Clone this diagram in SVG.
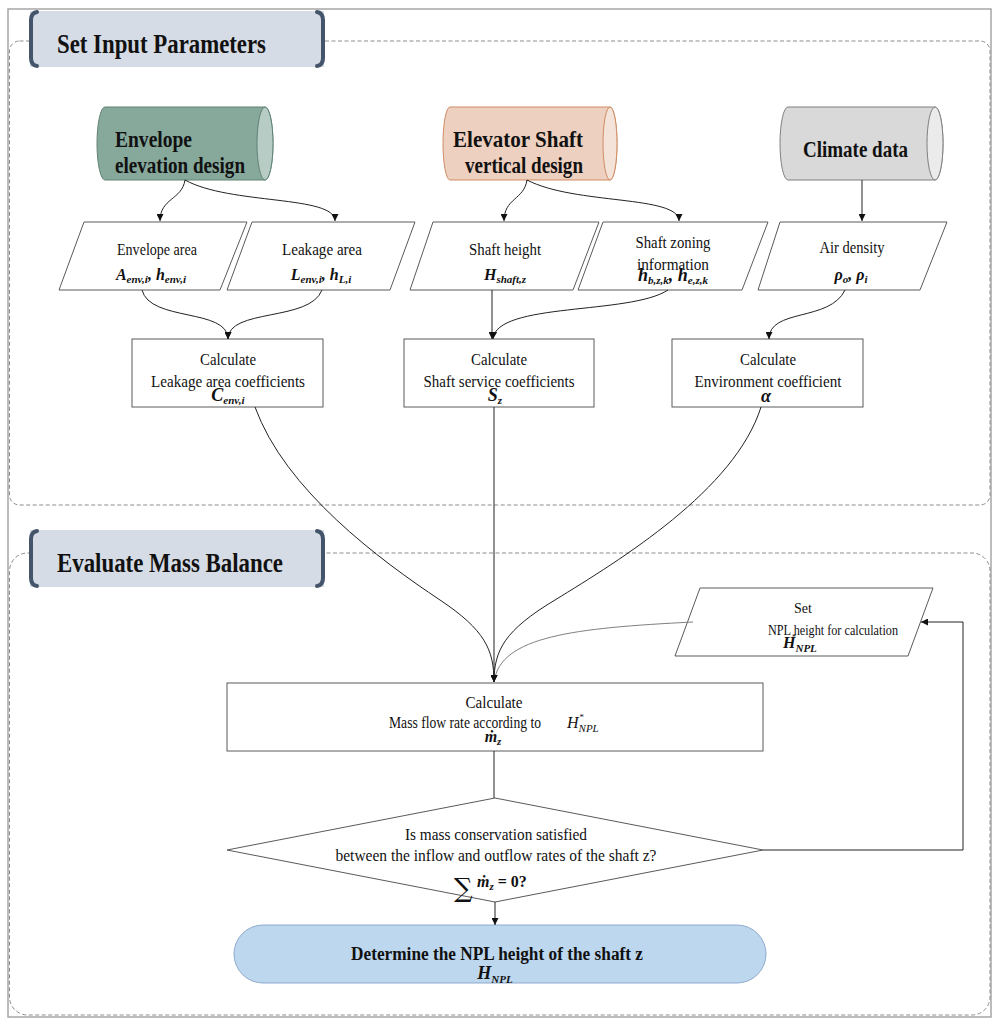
<svg xmlns="http://www.w3.org/2000/svg" width="1000" height="1027" viewBox="0 0 1000 1027">
  <defs>
    <marker id="arr" viewBox="0 0 10 10" refX="10" refY="5" markerWidth="7" markerHeight="7" orient="auto">
      <path d="M0,0 L10,5 L0,10 Z" fill="#111"/>
    </marker>
    <style>
      .frame { fill: none; stroke: #a6a6a6; stroke-width: 1.5; }
      .dash { fill: none; stroke: #8c8c8c; stroke-width: 1; stroke-dasharray: 4 2.5; }
      .hdrbox { fill: #d6dce5; }
      .brk { fill: none; stroke: #44546a; stroke-width: 4; stroke-linecap: round; }
      .hdr { font-family: "Liberation Serif", serif; font-weight: bold; font-size: 27px; fill: #111; }
      .cyl { font-family: "Liberation Serif", serif; font-weight: bold; font-size: 23px; fill: #111; }
      .box { fill: #fff; stroke: #5a5a5a; stroke-width: 1; }
      .t { font-family: "Liberation Serif", serif; font-size: 16px; fill: #111; }
      .ts { font-family: "Liberation Serif", serif; font-size: 14px; fill: #111; }
      .m { font-family: "Liberation Serif", serif; font-weight: bold; font-style: italic; font-size: 16px; fill: #111; }
      .mi { font-family: "Liberation Serif", serif; font-style: italic; font-size: 16px; fill: #111; }
      .sub { font-size: 11px; }
      .tb { font-family: "Liberation Serif", serif; font-weight: bold; font-size: 18px; fill: #111; }
      .ln { fill: none; stroke: #222; stroke-width: 1; }
      .lng { fill: none; stroke: #808080; stroke-width: 1; }
    </style>
  </defs>

  <rect width="1000" height="1027" fill="#fff"/>

  <!-- outer frame and the two dashed section panels -->
  <rect class="frame" x="8" y="9" width="983" height="1008"/>
  <rect class="dash" x="9.5" y="41" width="980.5" height="464" rx="10"/>
  <rect class="dash" x="9.5" y="553" width="980.5" height="462" rx="18"/>

  <!-- section headers -->
  <g id="hdr-input">
    <rect class="hdrbox" x="30" y="11" width="294" height="56"/>
    <path class="brk" d="M37,12 Q31,13 31,20 L31,58 Q31,65 37,66"/>
    <path class="brk" d="M317,12 Q323,13 323,20 L323,58 Q323,65 317,66"/>
    <text class="hdr" x="57" y="53" textLength="209" lengthAdjust="spacingAndGlyphs">Set Input Parameters</text>
  </g>
  <g id="hdr-balance">
    <rect class="hdrbox" x="30" y="530" width="294" height="57"/>
    <path class="brk" d="M37,531 Q31,532 31,539 L31,578 Q31,585 37,586"/>
    <path class="brk" d="M317,531 Q323,532 323,539 L323,578 Q323,585 317,586"/>
    <text class="hdr" x="57" y="572" textLength="226" lengthAdjust="spacingAndGlyphs">Evaluate Mass Balance</text>
  </g>

  <!-- data sources (cylinders) -->
  <g id="src-envelope">
    <path d="M105,107 H265 A8,36.5 0 0 1 265,180 H105 A8,36.5 0 0 1 105,107 Z" fill="#86a99c" stroke="#5f8273" stroke-width="1"/>
    <ellipse cx="265" cy="143.5" rx="8" ry="36.5" fill="#b6ccc4" stroke="#5f8273" stroke-width="1"/>
    <text class="cyl" x="115" y="147" textLength="77" lengthAdjust="spacingAndGlyphs">Envelope</text>
    <text class="cyl" x="115" y="173" textLength="130" lengthAdjust="spacingAndGlyphs">elevation design</text>
  </g>
  <g id="src-shaft">
    <path d="M450,107 H610 A7,36.5 0 0 1 610,180 H450 A7,36.5 0 0 1 450,107 Z" fill="#edd0bf" stroke="#d08b64" stroke-width="1"/>
    <ellipse cx="610" cy="143.5" rx="7" ry="36.5" fill="#f4e3d8" stroke="#d08b64" stroke-width="1"/>
    <text class="cyl" x="453" y="147" textLength="130" lengthAdjust="spacingAndGlyphs">Elevator Shaft</text>
    <text class="cyl" x="465" y="173" textLength="118" lengthAdjust="spacingAndGlyphs">vertical design</text>
  </g>
  <g id="src-climate">
    <path d="M788,107 H935 A8,36.5 0 0 1 935,180 H788 A8,36.5 0 0 1 788,107 Z" fill="#d9d9d9" stroke="#7f7f7f" stroke-width="1"/>
    <ellipse cx="935" cy="143.5" rx="8" ry="36.5" fill="#ebebeb" stroke="#7f7f7f" stroke-width="1"/>
    <text class="cyl" x="803" y="157" textLength="105" lengthAdjust="spacingAndGlyphs">Climate data</text>
  </g>

  <!-- input parameters (parallelograms) -->
  <g id="in-envelope-area">
    <polygon class="box" points="84,222 247,222 220,290 59,290"/>
    <text class="t" x="157" y="255" text-anchor="middle" textLength="80" lengthAdjust="spacingAndGlyphs">Envelope area</text>
    <text class="m" x="151" y="280" text-anchor="middle">A<tspan class="sub" dy="3">env,i</tspan><tspan dy="-3">, h</tspan><tspan class="sub" dy="3">env,i</tspan></text>
  </g>
  <g id="in-leakage-area">
    <polygon class="box" points="252,222 415,222 390,290 227,290"/>
    <text class="t" x="322" y="255" text-anchor="middle" textLength="80" lengthAdjust="spacingAndGlyphs">Leakage area</text>
    <text class="m" x="321" y="280" text-anchor="middle">L<tspan class="sub" dy="3">env,i</tspan><tspan dy="-3">, h</tspan><tspan class="sub" dy="3">L,i</tspan></text>
  </g>
  <g id="in-shaft-height">
    <polygon class="box" points="433,222 599,222 573,290 410,290"/>
    <text class="t" x="505" y="255" text-anchor="middle" textLength="72" lengthAdjust="spacingAndGlyphs">Shaft height</text>
    <text class="m" x="505" y="280" text-anchor="middle">H<tspan class="sub" dy="3">shaft,z</tspan></text>
  </g>
  <g id="in-shaft-zoning">
    <polygon class="box" points="603,222 768,222 742,290 578,290"/>
    <text class="t" x="673" y="248" text-anchor="middle" textLength="75" lengthAdjust="spacingAndGlyphs">Shaft zoning</text>
    <text class="t" x="673" y="270" text-anchor="middle" textLength="72" lengthAdjust="spacingAndGlyphs">information</text>
    <text class="m" x="673" y="281" text-anchor="middle" style="font-size:18px">h<tspan class="sub" dy="3">b,z,k</tspan><tspan dy="-3">, h</tspan><tspan class="sub" dy="3">e,z,k</tspan></text>
  </g>
  <g id="in-air-density">
    <polygon class="box" points="780,222 947,222 920,290 758,290"/>
    <text class="t" x="852" y="253" text-anchor="middle" textLength="65" lengthAdjust="spacingAndGlyphs">Air density</text>
    <text class="m" x="851" y="280" text-anchor="middle">ρ<tspan class="sub" dy="3">o</tspan><tspan dy="-3">, ρ</tspan><tspan class="sub" dy="3">i</tspan></text>
  </g>

  <!-- coefficient calculations -->
  <g id="calc-leakage">
    <rect class="box" x="132" y="339" width="191" height="68"/>
    <text class="t" x="228" y="365" text-anchor="middle" textLength="56" lengthAdjust="spacingAndGlyphs">Calculate</text>
    <text class="t" x="228" y="387" text-anchor="middle" textLength="154" lengthAdjust="spacingAndGlyphs">Leakage area coefficients</text>
    <text class="m" x="228" y="401" text-anchor="middle" style="font-size:18px">C<tspan class="sub" dy="3">env,i</tspan></text>
  </g>
  <g id="calc-service">
    <rect class="box" x="404" y="339" width="190" height="68"/>
    <text class="t" x="499" y="365" text-anchor="middle" textLength="56" lengthAdjust="spacingAndGlyphs">Calculate</text>
    <text class="t" x="499" y="387" text-anchor="middle" textLength="151" lengthAdjust="spacingAndGlyphs">Shaft service coefficients</text>
    <text class="m" x="495" y="401" text-anchor="middle" style="font-size:18px">S<tspan class="sub" dy="3">z</tspan></text>
  </g>
  <g id="calc-environment">
    <rect class="box" x="672" y="339" width="191" height="68"/>
    <text class="t" x="768" y="365" text-anchor="middle" textLength="56" lengthAdjust="spacingAndGlyphs">Calculate</text>
    <text class="t" x="768" y="387" text-anchor="middle" textLength="147" lengthAdjust="spacingAndGlyphs">Environment coefficient</text>
    <text class="m" x="766" y="402" text-anchor="middle" style="font-size:18px">α</text>
  </g>

  <!-- mass balance loop -->
  <g id="set-npl">
    <polygon class="box" points="700,588 933,588 908,656 675,656"/>
    <text class="ts" x="803" y="613" text-anchor="middle">Set</text>
    <text class="ts" x="833" y="635" text-anchor="middle" textLength="130" lengthAdjust="spacingAndGlyphs">NPL height for calculation</text>
    <text class="m" x="783" y="648">H<tspan class="sub" dy="4">NPL</tspan></text>
    <text class="ts" x="792" y="640" style="font-size:8px">*</text>
  </g>
  <g id="calc-massflow">
    <rect class="box" x="227" y="683" width="536" height="68"/>
    <text class="t" x="494" y="708" text-anchor="middle" textLength="57" lengthAdjust="spacingAndGlyphs">Calculate</text>
    <text class="t" x="389" y="728" textLength="152" lengthAdjust="spacingAndGlyphs">Mass flow rate according to</text>
    <text class="mi" x="567" y="728">H<tspan class="sub" dy="4">NPL</tspan></text>
    <text class="mi" x="579" y="720" style="font-size:9px">*</text>
    <text class="m" x="493" y="742" text-anchor="middle">ṁ<tspan class="sub" dy="3">z</tspan></text>
  </g>
  <g id="check-balance">
    <polygon class="box" points="495,798 763,850 495,902 227,850"/>
    <text class="t" x="496" y="840" text-anchor="middle" textLength="182" lengthAdjust="spacingAndGlyphs">Is mass conservation satisfied</text>
    <text class="t" x="496" y="861" text-anchor="middle" textLength="321" lengthAdjust="spacingAndGlyphs">between the inflow and outflow rates of the shaft z?</text>
    <text x="454" y="897" style="font-family:'DejaVu Serif',serif;font-size:26px;fill:#111">∑</text>
    <text class="m" x="477" y="887">ṁ<tspan class="sub" dy="3">z</tspan><tspan dy="-3" style="font-style:normal"> = 0?</tspan></text>
  </g>
  <g id="result-npl">
    <rect x="234" y="925" width="532" height="58" rx="29" fill="#bdd7ee" stroke="#8eaacc" stroke-width="1"/>
    <text class="tb" x="497" y="960" text-anchor="middle" textLength="292" lengthAdjust="spacingAndGlyphs">Determine the NPL height of the shaft z</text>
    <text class="m" x="495" y="979" text-anchor="middle" style="font-size:18px">H<tspan class="sub" dy="4">NPL</tspan></text>
  </g>

  <!-- connectors -->
  <g id="connectors">
    <path class="ln" d="M185,180 C182,200 160,198 160,221" marker-end="url(#arr)"/>
    <path class="ln" d="M185,180 C230,205 335,195 335,221" marker-end="url(#arr)"/>
    <path class="ln" d="M527,180 C524,200 504,198 504,221" marker-end="url(#arr)"/>
    <path class="ln" d="M527,180 C575,205 679,195 679,221" marker-end="url(#arr)"/>
    <path class="ln" d="M862,180 L862,221" marker-end="url(#arr)"/>
    <path class="ln" d="M142,290 C150,322 228,308 228,339" marker-end="url(#arr)"/>
    <path class="ln" d="M322,290 C310,322 228,308 228,339" marker-end="url(#arr)"/>
    <path class="ln" d="M492,290 L492,339" marker-end="url(#arr)"/>
    <path class="ln" d="M668,290 C630,315 496,302 493,339" marker-end="url(#arr)"/>
    <path class="ln" d="M845,290 C830,322 769,308 769,339" marker-end="url(#arr)"/>
    <path class="lng" d="M693,622 C575,628 500,636 494,682"/>
    <path class="ln" d="M255,407 C285,490 380,560 440,600 C485,630 494,650 494,682" marker-end="url(#arr)"/>
    <path class="ln" d="M494,407 L494,682" marker-end="url(#arr)"/>
    <path class="ln" d="M761,407 C735,490 620,560 555,600 C505,630 494,650 494,682" marker-end="url(#arr)"/>
    <path class="ln" d="M494,751 L494,798"/>
    <path class="ln" d="M495,902 L495,925" marker-end="url(#arr)"/>
    <path class="ln" d="M763,850 L963,850 L963,622 L921,622" marker-end="url(#arr)"/>
  </g>
</svg>
